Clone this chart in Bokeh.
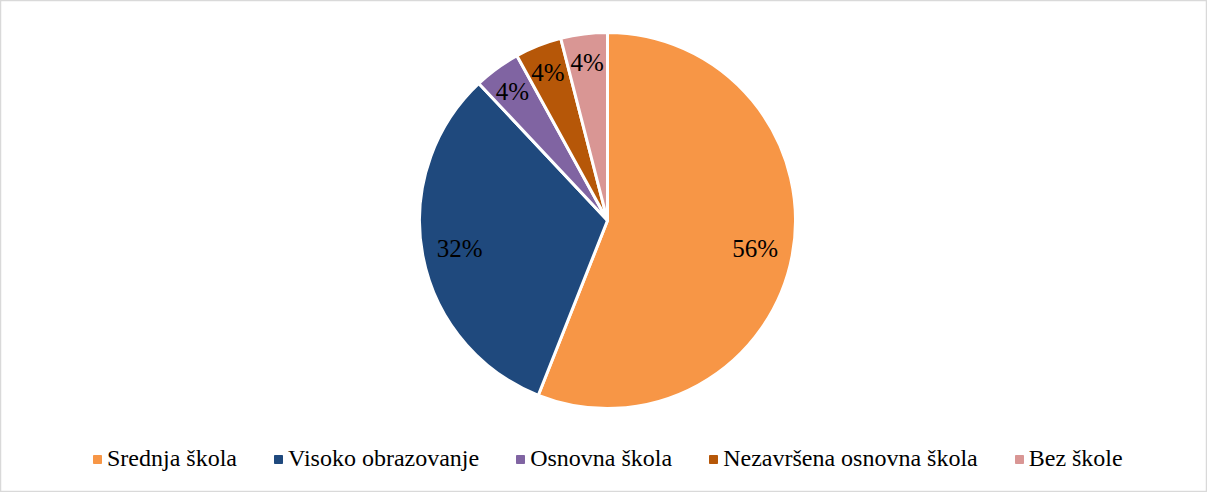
import math
from bokeh.plotting import figure
from bokeh.models import ColumnDataSource, Range1d, Legend, LegendItem
from bokeh.core.properties import value
from bokeh.embed import file_html
from bokeh.resources import INLINE

categories = ["Srednja škola", "Visoko obrazovanje", "Osnovna škola", "Nezavršena osnovna škola", "Bez škole"]
values = [56, 32, 4, 4, 4]
labels = ["56%", "32%", "4%", "4%", "4%"]
colors = ["#F79646", "#1F497D", "#8064A2", "#B65708", "#D99694"]

W, H = 1207, 492
CX, CY, R = 607, 272, 188

total = sum(values)
starts, ends, lx, ly = [], [], [], []
cum = 0.0
for v in values:
    a0 = math.pi / 2 - 2 * math.pi * cum / total
    a1 = math.pi / 2 - 2 * math.pi * (cum + v) / total
    starts.append(a0)
    ends.append(a1)
    mid = (a0 + a1) / 2
    lr = R * (0.86 if v / total < 0.1 else 0.80)
    lx.append(CX + lr * math.cos(mid))
    ly.append(CY + lr * math.sin(mid) - (2 if v / total < 0.1 else 0))
    cum += v

src = ColumnDataSource(dict(cat=categories, val=values, start=starts, end=ends,
                            color=colors, lx=lx, ly=ly, lab=labels))

p = figure(width=W, height=H, output_backend="svg", toolbar_location=None,
           x_range=Range1d(0, W), y_range=Range1d(0, H), min_border=0)
p.axis.visible = False
p.grid.visible = False
p.outline_line_color = "#D9D9D9"
p.outline_line_width = 1.5
p.background_fill_color = "white"

p.wedge(x=CX, y=CY, radius=R, start_angle="start", end_angle="end", direction="clock",
        fill_color="color", line_color="white", line_width=3, source=src)

p.text(x="lx", y="ly", text="lab", source=src, text_align="center", text_baseline="middle",
       text_font=value("Liberation Serif"), text_font_size="25px", text_color="#000000")

items = []
for c, col in zip(categories, colors):
    r = p.scatter(x=[-1000], y=[-1000], marker="square", size=8, fill_color=col, line_color=col)
    items.append(LegendItem(label=c, renderers=[r]))

legend = Legend(items=items, orientation="horizontal", location=(87, 20),
                label_text_font="Liberation Serif", label_text_font_size="24px",
                label_text_color="#000000", glyph_width=20, glyph_height=20,
                label_standoff=0, spacing=31, padding=0, margin=0,
                border_line_color=None, background_fill_alpha=0)
p.add_layout(legend)

open("out.html", "w").write(file_html(p, INLINE))
